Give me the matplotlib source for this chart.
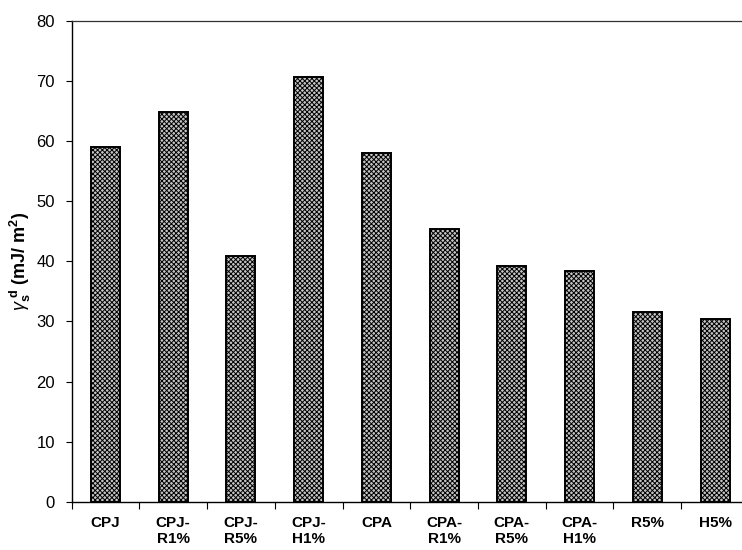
import matplotlib
matplotlib.use("Agg")
import matplotlib.pyplot as plt
import numpy as np

categories = ["CPJ", "CPJ-\nR1%", "CPJ-\nR5%", "CPJ-\nH1%", "CPA",
              "CPA-\nR1%", "CPA-\nR5%", "CPA-\nH1%", "R5%", "H5%"]
gamma_sd = [59.0, 64.9, 40.9, 70.6, 58.0, 45.3, 39.2, 38.4, 31.6, 30.4]
y_ticks = [0, 10, 20, 30, 40, 50, 60, 70, 80]

plt.rcParams["font.family"] = ["Liberation Sans", "DejaVu Sans"]
plt.rcParams["hatch.linewidth"] = 0.7
plt.rcParams["hatch.color"] = "#404040"
plt.rcParams["mathtext.fontset"] = "custom"
plt.rcParams["mathtext.rm"] = "Liberation Sans"
plt.rcParams["mathtext.it"] = "Liberation Sans:italic"
plt.rcParams["mathtext.bf"] = "Liberation Sans:bold"

fig = plt.figure(figsize=(7.42, 5.5), dpi=100)
ax = fig.add_axes([0.0964, 0.0873, 0.913, 0.8751])

x = np.arange(len(categories))
ax.bar(x, gamma_sd, width=0.43, facecolor="#c4c4c4", edgecolor="black",
       linewidth=1.4, hatch="xxxxxxx", zorder=2)

ax.set_xlim(-0.5, len(categories) - 0.5)
ax.set_ylim(0, 80)
ax.set_yticks(y_ticks)
ax.tick_params(axis="y", direction="out", length=4, width=0.8, pad=8,
               labelsize=12)

ax.set_xticks(x)
ax.set_xticklabels(categories, fontsize=11, fontweight="bold", linespacing=1.2,
                   va="top")
ax.set_xticks(np.arange(-0.5, len(categories)), minor=True)
ax.tick_params(axis="x", which="major", length=0, pad=10)
ax.tick_params(axis="x", which="minor", direction="out", length=5, width=0.8)

ax.spines["right"].set_visible(False)
ax.spines["top"].set_linewidth(0.9)
ax.spines["top"].set_color("#333333")
ax.spines["left"].set_linewidth(1.0)
ax.spines["bottom"].set_linewidth(1.0)

ax.set_ylabel(r"$\gamma_{\mathbf{s}}^{\ \mathbf{d}}$ (mJ/ m$^{\mathbf{2}}$)",
              fontsize=13, fontweight="bold", labelpad=2)

fig.savefig("out.png", dpi=100)
